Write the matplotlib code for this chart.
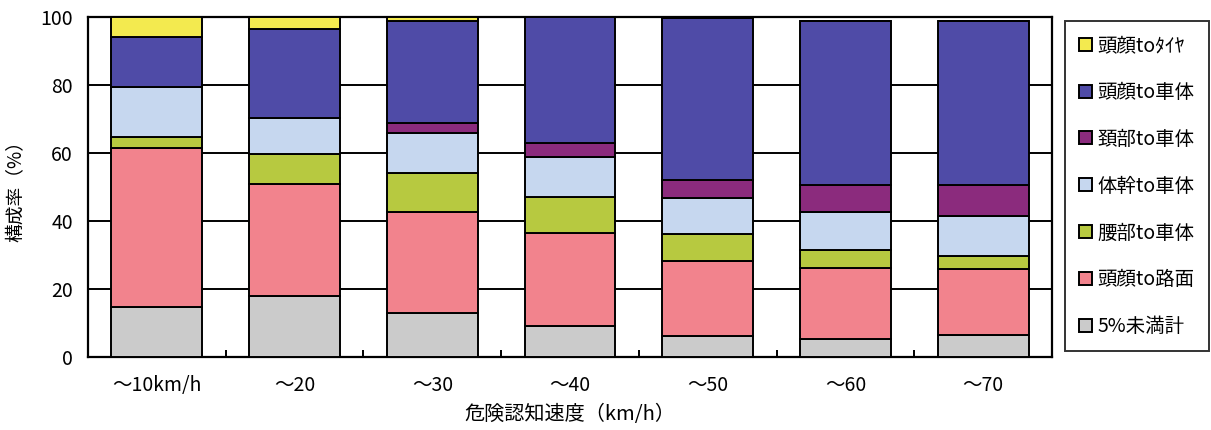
import matplotlib
matplotlib.use("Agg")
import matplotlib.pyplot as plt
import numpy as np

plt.rcParams['font.family'] = ['Noto Sans CJK JP', 'DejaVu Sans']

categories = ["～10km/h", "～20", "～30", "～40", "～50", "～60", "～70"]

# composition (%) of each injury pattern, bottom to top of each stack
under5 = [14.7, 18.0, 12.9, 9.0, 6.1, 5.4, 6.6]
head_road = [46.8, 33.0, 29.7, 27.4, 22.2, 20.7, 19.2]
waist_body = [3.2, 8.8, 11.5, 10.8, 7.8, 5.4, 3.9]
trunk_body = [14.6, 10.6, 11.8, 11.7, 10.6, 11.0, 11.8]
neck_body = [0.0, 0.0, 2.8, 3.9, 5.4, 8.0, 9.1]
head_body = [14.8, 26.2, 30.1, 37.2, 47.5, 48.3, 48.3]
head_tire = [5.9, 3.4, 1.2, 0.0, 0.0, 0.0, 0.0]

series = [
    ("5%未満計", under5, "#cbcbcb"),
    ("頭顔to路面", head_road, "#f2838d"),
    ("腰部to車体", waist_body, "#b7c940"),
    ("体幹to車体", trunk_body, "#c6d7ef"),
    ("頚部to車体", neck_body, "#8b2b7d"),
    ("頭顔to車体", head_body, "#4f4ba7"),
    ("頭顔toﾀｲﾔ", head_tire, "#f3ea4f"),
]

fig = plt.figure(figsize=(12.11, 4.30), dpi=100)
ax = fig.add_axes([0.0727, 0.1698, 0.796, 0.7907])

x = np.arange(len(categories))
bottom = np.zeros(len(categories))
handles = []
for label, vals, color in series:
    vals = np.array(vals)
    h = ax.bar(x, vals, width=0.66, bottom=bottom, color=color,
               edgecolor="black", linewidth=1.4, label=label, zorder=3)
    handles.append(h)
    bottom += vals

ax.set_xlim(-0.5, len(categories) - 0.5)
ax.set_ylim(0, 100)
ax.set_yticks([0, 20, 40, 60, 80, 100])
ax.yaxis.grid(True, color="black", linewidth=1.4, zorder=0)
ax.set_axisbelow(True)

ax.set_xticks(x)
ax.set_xticklabels(categories, fontsize=14)
ax.set_xticks(np.arange(len(categories) - 1) + 0.5, minor=True)
ax.tick_params(axis="x", which="major", length=0, pad=13)
ax.tick_params(axis="x", which="minor", direction="in", length=5, width=1.4)
ax.tick_params(axis="y", length=0, pad=11, labelsize=14)

for s in ax.spines.values():
    s.set_linewidth(1.6)

ax.set_xlabel("危険認知速度（km/h）", fontsize=14.5, labelpad=6)
ax.set_ylabel("構成率（%）", fontsize=13.5, labelpad=10)

leg = fig.legend(handles[::-1], [s[0] for s in series][::-1],
                 loc="upper left", bbox_to_anchor=(0.8794, 0.951),
                 bbox_transform=fig.transFigure,
                 fontsize=14, frameon=True, fancybox=False,
                 edgecolor="black", handlelength=0.65, handleheight=0.65,
                 handletextpad=0.3, labelspacing=1.33, borderpad=0.72,
                 borderaxespad=0)
leg.get_frame().set_linewidth(1.4)

fig.savefig("out.png", dpi=100)
